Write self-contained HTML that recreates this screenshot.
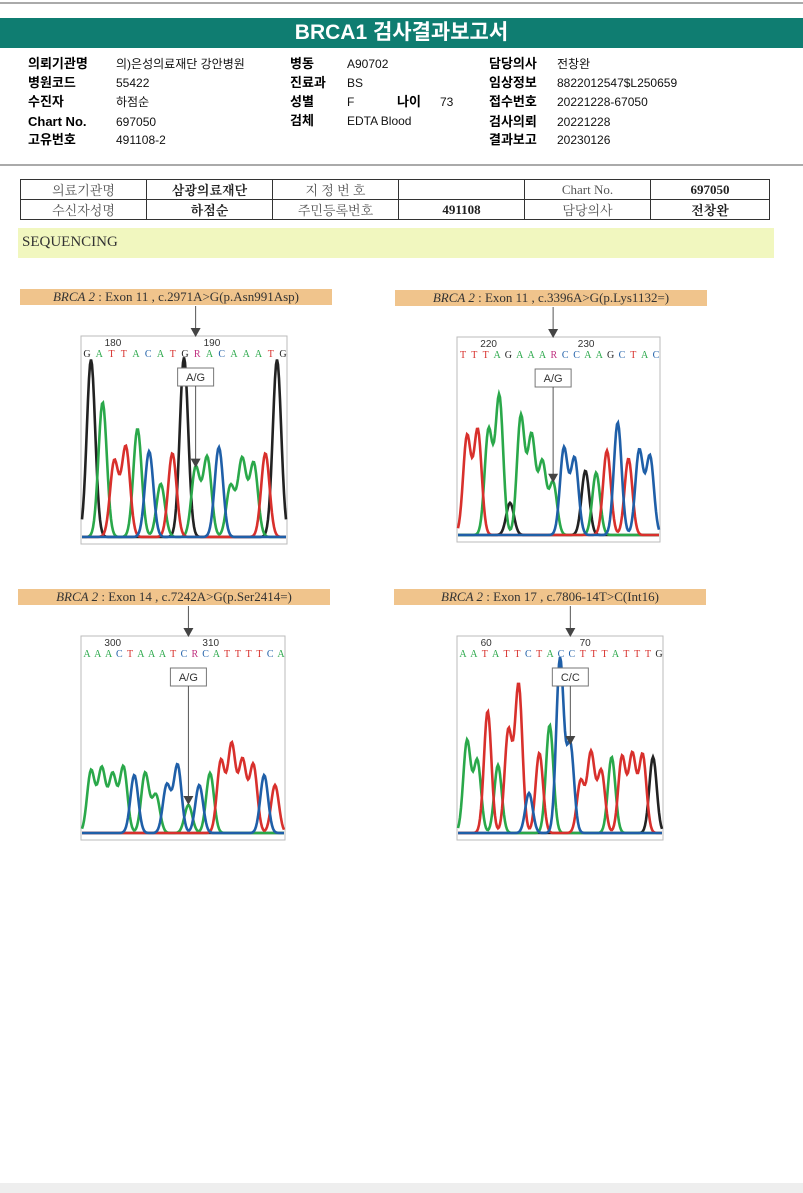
<!DOCTYPE html>
<html><head><meta charset="utf-8">
<style>
body{margin:0;width:803px;height:1193px;background:#fff;position:relative;overflow:hidden;font-family:"Liberation Sans","Noto Sans CJK KR",sans-serif}
.abs{position:absolute}
.hdr{left:0;top:18px;width:803px;height:30px;background:#0f7d71;color:#fff;font-weight:bold;font-size:21px;text-align:center;line-height:30px}
.lb{font-weight:bold;font-size:13px;color:#000;line-height:18px}
.vl{font-size:12px;color:#111;line-height:18px}
table{border-collapse:collapse;font-family:"Liberation Serif","Noto Serif CJK SC",serif;font-size:13px}
td{border:1px solid #333;text-align:center;height:15px;padding:0;color:#555}
td.b{font-weight:bold;color:#222}
.tag{background:#f0c48c;height:16px;font-family:"Liberation Serif","Noto Serif CJK SC",serif;font-size:13px;line-height:16px;text-align:center;color:#333}
</style></head><body>
<div class="abs" style="left:0;top:2px;width:803px;height:2px;background:#aaa"></div>
<div class="abs hdr">BRCA1 검사결과보고서</div>
<div id="info"></div>
<div class="abs" style="left:0;top:164px;width:803px;height:2px;background:#aaa"></div>
<table class="abs" style="left:20px;top:179px;width:750px">
<tr><td style="width:125px">의료기관명</td><td class="b" style="width:125px">삼광의료재단</td><td style="width:125px">지 정 번 호</td><td style="width:125px"></td><td style="width:125px">Chart No.</td><td class="b">697050</td></tr>
<tr><td>수신자성명</td><td class="b">하점순</td><td>주민등록번호</td><td class="b">491108</td><td>담당의사</td><td class="b">전창완</td></tr>
</table>
<div class="abs" style="left:18px;top:228px;width:752px;height:30px;background:#f1f7bf;font-family:'Liberation Serif',serif;font-size:15px;line-height:28px;color:#333;padding-left:4px">SEQUENCING</div>
<div id="charts"></div>
<div class="abs" style="left:0;top:1183px;width:803px;height:10px;background:#eee"></div>
<script>
const info=[
["의뢰기관명","의)은성의료재단 강안병원",28,116,64],["병원코드","55422",28,116,83],["수진자","하점순",28,116,102],["Chart No.","697050",28,116,122],["고유번호","491108-2",28,116,140],
["병동","A90702",290,347,64],["진료과","BS",290,347,83],["성별","F",290,347,102],["검체","EDTA Blood",290,347,121],["나이","73",397,440,102],
["담당의사","전창완",489,557,64],["임상정보","8822012547$L250659",489,557,83],["접수번호","20221228-67050",489,557,102],["검사의뢰","20221228",489,557,122],["결과보고","20230126",489,557,140]];
const infoDiv=document.getElementById('info');
info.forEach(r=>{
 const a=document.createElement('div');a.className='abs lb';a.style.left=r[2]+'px';a.style.top=(r[4]-9)+'px';a.textContent=r[0];
 
 
 const b=document.createElement('div');b.className='abs vl';b.style.left=r[3]+'px';b.style.top=(r[4]-9)+'px';b.textContent=r[1];
 
 
 infoDiv.appendChild(a);infoDiv.appendChild(b);
});

const chart1Title="BRCA 2 : Exon 11 , c.2971A>G(p.Asn991Asp)";
const chart1Seq="GATTACATGRACAAATG";
const chart1Ticks=["180","190"];
const chart1Call="A/G";
const chart1Colors=["k","g","r","r","g","b","g","r","k","g","g","b","g","g","g","r","k"];
const chart1Heights=[87,66,37,44,53,42,26,41,88,34,39,44,25,38,36,41,87];

const chart2Title="BRCA 2 : Exon 11 , c.3396A>G(p.Lys1132=)";
const chart2Seq="TTTAGAAARCCAAGCTAC";
const chart2Ticks=["220","230"];
const chart2Call="A/G";
const chart2Colors=["r","r","g","g","k","g","g","g","g","b","b","k","g","r","b","r","b","b"];
const chart2Heights=[49,52,52,69,16,59,49,36,26,43,38,32,31,42,56,38,42,39];

const chart3Title="BRCA 2 : Exon 14 , c.7242A>G(p.Ser2414=)";
const chart3Seq="AAACTAAATCRCATTTTCA";
const chart3Ticks=["300","310"];
const chart3Call="A/G";
const chart3Colors=["g","g","g","g","b","g","g","b","b","g","b","g","r","r","r","r","b","r"];
const chart3Heights=[31,32,29,33,29,30,19,24,34,14,24,30,36,44,36,34,29,24];

const chart4Title="BRCA 2 : Exon 17 , c.7806-14T>C(Int16)";
const chart4Seq="AATATTCTACCTTTATTTG";
const chart4Ticks=["60","70"];
const chart4Call="C/C";
const chart4Colors=["g","g","r","g","r","r","b","r","g","b","b","r","r","r","g","r","r","r","k"];
const chart4Heights=[46,36,61,34,51,74,20,40,54,87,44,26,40,31,38,38,39,39,38];

const COL={k:"#222",g:"#2aa84a",r:"#d8302c",b:"#1f5fa8"};
const BASECOL={A:"#2aa84a",C:"#1f5fa8",G:"#222",T:"#d8302c",R:"#c03080"};
const cfg=[
 {t:chart1Title,s:chart1Seq,tk:chart1Ticks,c:chart1Call,cols:chart1Colors,h:chart1Heights,tx:20,ty:289,tw:312,bx:81,by:336,bw:206,bh:208,mut:9},
 {t:chart2Title,s:chart2Seq,tk:chart2Ticks,c:chart2Call,cols:chart2Colors,h:chart2Heights,tx:395,ty:290,tw:312,bx:457,by:337,bw:203,bh:205,mut:8},
 {t:chart3Title,s:chart3Seq,tk:chart3Ticks,c:chart3Call,cols:chart3Colors,h:chart3Heights,tx:18,ty:589,tw:312,bx:81,by:636,bw:204,bh:204,mut:9},
 {t:chart4Title,s:chart4Seq,tk:chart4Ticks,c:chart4Call,cols:chart4Colors,h:chart4Heights,tx:394,ty:589,tw:312,bx:457,by:636,bw:206,bh:204,mut:10}
];
const host=document.getElementById('charts');
const NS="http://www.w3.org/2000/svg";
cfg.forEach((C,ci)=>{
 const tag=document.createElement('div');tag.className='abs tag';
 tag.style.left=C.tx+'px';tag.style.top=C.ty+'px';tag.style.width=C.tw+'px';
 tag.innerHTML='<i>'+C.t.slice(0,7)+'</i>'+C.t.slice(7);
 
 
 host.appendChild(tag);
 const svg=document.createElementNS(NS,'svg');
 svg.setAttribute('class','abs');
 svg.setAttribute('width',C.bw+2);svg.setAttribute('height',C.bh+40);
 svg.style.left=(C.bx-1)+'px';svg.style.top=(C.by-30)+'px';
 
 
 host.appendChild(svg);
 const oy=30;
 const n=C.h.length;
 const xS=i=>1+10+i*(C.bw-20)/(n-1);
 const base=oy+C.bh-4;
 const yS=v=>base-v/100*(C.bh-4);
 let html='';
 html+=`<rect x="1" y="${oy}" width="${C.bw}" height="${C.bh}" fill="#fff" stroke="#bbb"/>`;
 const ns=C.s.length;
 for(let i=0;i<ns;i++){
  const x=1+6+i*(C.bw-10)/(ns-1);
  html+=`<text x="${x}" y="${oy+21}" font-family="Liberation Serif,serif" font-size="10" text-anchor="middle" fill="${BASECOL[C.s[i]]}">${C.s[i]}</text>`;
 }
 html+=`<text x="${C.bw*0.1+4}" y="${oy+10}" font-family="Liberation Sans,sans-serif" font-size="10" fill="#333">${C.tk[0]}</text>`;
 html+=`<text x="${C.bw*0.6}" y="${oy+10}" font-family="Liberation Sans,sans-serif" font-size="10" fill="#333">${C.tk[1]}</text>`;
 const sig=(C.bw-20)/(n-1)*0.36;
 ['k','g','r','b'].forEach(col=>{
  let d='';
  for(let px=2;px<=C.bw;px+=1){
   let v=0;
   C.h.forEach((hh,i)=>{if(C.cols[i]===col){const dx=px-xS(i);v+=hh*Math.exp(-dx*dx/(2*sig*sig));}});
   v+=1.5;
   d+=(px===2?'M':'L')+px+','+yS(v).toFixed(1);
  }
  html+=`<path d="${d}" fill="none" stroke="${COL[col]}" stroke-width="2.6"/>`;
 });
 const mx=xS(C.mut);
 html+=`<line x1="${mx}" y1="0" x2="${mx}" y2="${oy-6}" stroke="#555"/><polygon points="${mx-5},${oy-8} ${mx+5},${oy-8} ${mx},${oy+1}" fill="#444"/>`;
 html+=`<rect x="${mx-18}" y="${oy+32}" width="36" height="18" fill="#fff" stroke="#777"/><text x="${mx}" y="${oy+45}" font-family="Liberation Sans,sans-serif" font-size="11" text-anchor="middle" fill="#333">${C.c}</text>`;
 const ay=yS(C.h[C.mut])-4;
 html+=`<line x1="${mx}" y1="${oy+50}" x2="${mx}" y2="${ay-6}" stroke="#555"/><polygon points="${mx-5},${ay-8} ${mx+5},${ay-8} ${mx},${ay+1}" fill="#444"/>`;
 svg.innerHTML=html;
});
</script>
</body></html>
